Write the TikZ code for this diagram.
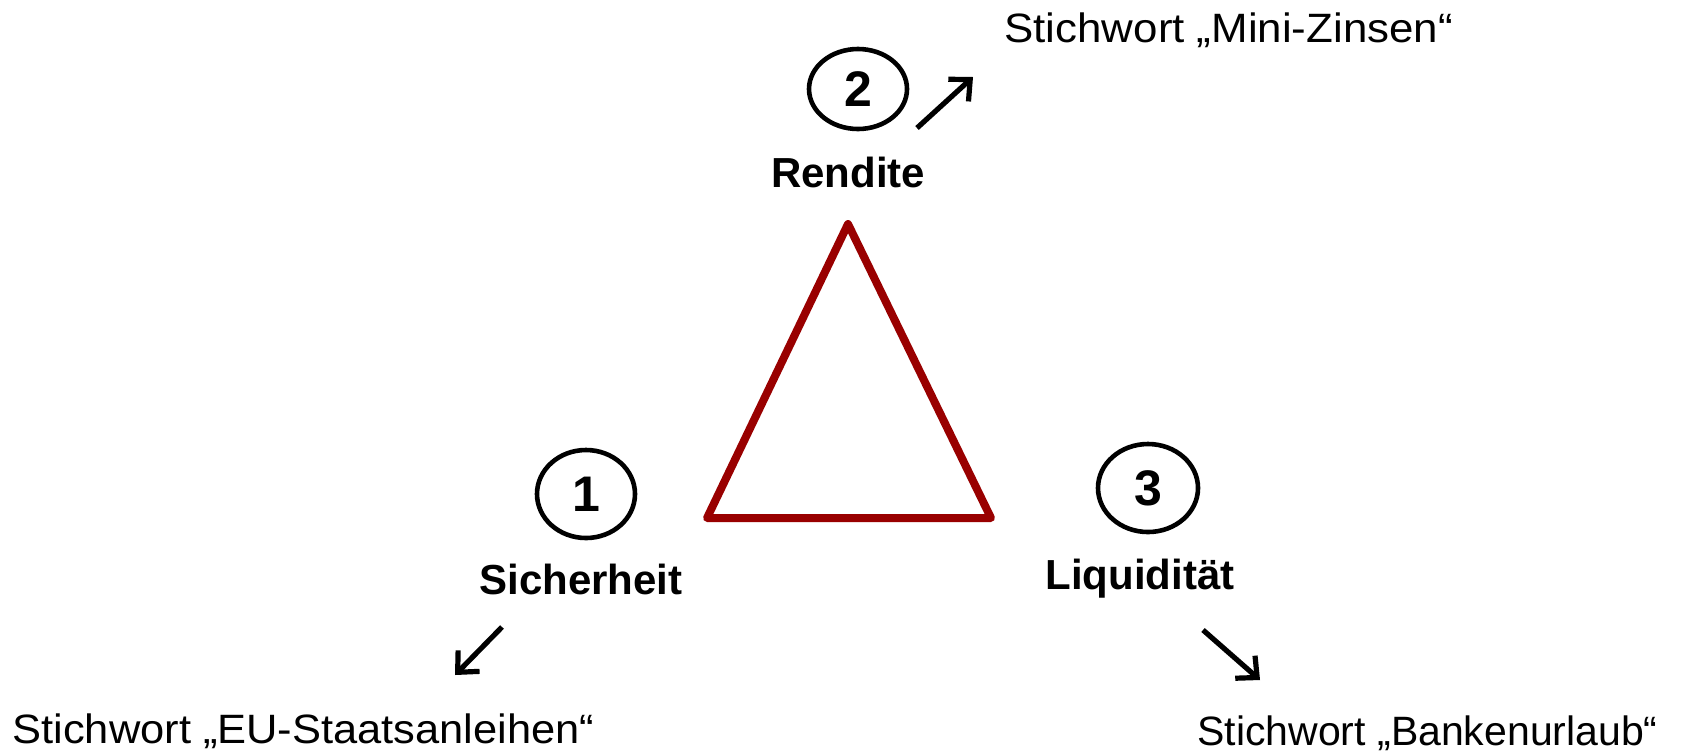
\documentclass[tikz,border=0pt]{standalone}
\usepackage{fontspec}
\usepackage{graphicx}
\setmainfont{Liberation Sans}
\usetikzlibrary{arrows.meta,shapes.geometric}
\definecolor{trired}{HTML}{990000}
\begin{document}
\begin{tikzpicture}[x=0.5pt,y=-0.5pt,
  keyword/.style={inner sep=0pt,anchor=base west,font=\fontsize{20.5}{24}\selectfont},
  goal/.style={inner sep=0pt,anchor=base,font=\fontsize{21}{25}\selectfont\bfseries},
  badge/.style={draw,line width=2.3pt,ellipse,inner sep=0pt,font=\fontsize{25}{30}\selectfont\bfseries},
  hint/.style={line width=2.6pt,-{Straight Barb[length=8pt,width=15pt]}},
  edge/.style={draw=trired,line width=4pt,line join=round,line cap=round}]
\useasboundingbox (0,0) rectangle (1684,751);

% triangle of investment goals
\coordinate (top) at (848,224);
\coordinate (left) at (707,518);
\coordinate (right) at (991,518);
\draw[edge] (top) -- (left) -- (right) -- cycle;

% numbered badges
\node[badge,minimum width=49pt,minimum height=40pt] (n2) at (858,89) {2};
\node[badge,minimum width=49pt,minimum height=44pt] (n1) at (586,494) {1};
\node[badge,minimum width=50pt,minimum height=44pt] (n3) at (1148,488) {3};

% goal names
\node[goal] (rendite) at (848,187) {Rendite};
\node[goal] (sicherheit) at (581,594) {Sicherheit};
\node[goal] (liquiditaet) at (1140,589) {Liquidität};

% keywords
\node[keyword] (kw2) at (1004,42) {\scalebox{1.07}[1]{Stichwort „Mini-Zinsen“}};
\node[keyword] (kw1) at (12,743) {\scalebox{1.06}[1]{Stichwort „EU-Staatsanleihen“}};
\node[keyword] (kw3) at (1197,745) {Stichwort „Bankenurlaub“};

% pointers to the keywords
\coordinate (p2a) at (917,128);
\coordinate (p2b) at (973,77);
\coordinate (p1a) at (502,627);
\coordinate (p1b) at (455,675);
\coordinate (p3a) at (1203,630);
\coordinate (p3b) at (1260,680);
\draw[hint] (p2a) -- (p2b);
\draw[hint] (p1a) -- (p1b);
\draw[hint] (p3a) -- (p3b);
\end{tikzpicture}
\end{document}
